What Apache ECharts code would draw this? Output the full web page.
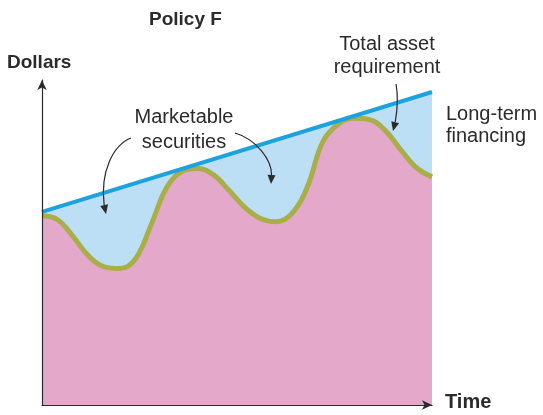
<!DOCTYPE html>
<html>
<head>
<meta charset="utf-8">
<script src="https://cdn.jsdelivr.net/npm/echarts@6/dist/echarts.min.js"></script>
<style>
  html, body { margin: 0; padding: 0; background: #fff; }
  #chart { width: 543px; height: 415px; }
</style>
</head>
<body>
<div id="chart"></div>
<script>
// Time runs 0..100, dollars 0..100
const assetTime = [0, 4, 8, 12, 16, 20, 24, 28, 32, 36, 40, 44, 48, 52, 56, 60, 64, 68, 72, 76, 80, 84, 88, 92, 96, 100];
const assetValues = [58.2, 57.0, 51.8, 45.8, 42.5, 42.0, 45.0, 55.5, 67.0, 72.0, 72.8, 70.8, 66.0, 60.8, 57.4, 56.4, 58.8, 67.0, 81.0, 86.5, 88.2, 87.8, 84.5, 78.5, 73.0, 70.2];
const financingTime = [0, 100];
const financingValues = [59.4, 96.3];

const pink = '#e4a9ca';
const lightBlue = '#bddff6';
const blueLine = '#1ba2df';
const olive = '#a9ae48';
const ink = '#2b2b2b';

function zip(xs, ys) {
  return xs.map((x, i) => [x, ys[i]]);
}

function arrow(points, tip, from) {
  const dx = tip[0] - from[0];
  const dy = tip[1] - from[1];
  const len = Math.sqrt(dx * dx + dy * dy);
  const ux = dx / len, uy = dy / len;
  const back = [tip[0] - ux * 9, tip[1] - uy * 9];
  return [
    {
      type: 'bezierCurve',
      shape: {x1: points[0][0], y1: points[0][1], cpx1: points[1][0], cpy1: points[1][1],
        cpx2: points[2][0], cpy2: points[2][1], x2: back[0], y2: back[1]},
      style: {stroke: ink, lineWidth: 1.2, fill: null},
      z: 20
    },
    {
      type: 'polygon',
      shape: {points: [tip, [back[0] - uy * 4, back[1] + ux * 4], [back[0] + uy * 4, back[1] - ux * 4]]},
      style: {fill: ink},
      z: 20
    }
  ];
}

const chart = echarts.init(document.getElementById('chart'));

const axisCommon = {
  type: 'value',
  min: 0,
  max: 100,
  z: 10,
  axisLine: {show: true, symbol: ['none', 'arrow'], symbolSize: [7, 10], lineStyle: {color: ink, width: 1.2}},
  axisTick: {show: false},
  axisLabel: {show: false},
  splitLine: {show: false}
};

const textStyle = {fill: ink, fontFamily: 'Liberation Sans, Arial, sans-serif', fontSize: 20};

chart.setOption({
  animation: false,
  grid: {left: 42, right: 111, top: 80, bottom: 10},
  xAxis: axisCommon,
  yAxis: axisCommon,
  series: [
    {
      name: 'Long-term financing',
      type: 'line',
      data: zip(financingTime, financingValues),
      symbol: 'none',
      lineStyle: {width: 0},
      areaStyle: {color: lightBlue, opacity: 1},
      z: 1
    },
    {
      name: 'Total asset requirement',
      type: 'line',
      data: zip(assetTime, assetValues),
      smooth: 0.4,
      symbol: 'none',
      lineStyle: {color: olive, width: 5},
      areaStyle: {color: pink, opacity: 1},
      z: 2
    },
    {
      name: 'Financing line',
      type: 'line',
      data: zip(financingTime, financingValues),
      symbol: 'none',
      lineStyle: {color: blueLine, width: 4},
      z: 3
    }
  ],
  graphic: [
    {type: 'text', left: 149, top: 10, style: Object.assign({}, textStyle, {text: 'Policy F', fontWeight: 'bold', fontSize: 19})},
    {type: 'text', left: 7, top: 53, style: Object.assign({}, textStyle, {text: 'Dollars', fontWeight: 'bold', fontSize: 19})},
    {type: 'text', left: 445, top: 392, style: Object.assign({}, textStyle, {text: 'Time', fontWeight: 'bold'})},
    {type: 'text', x: 184, y: 105, style: Object.assign({}, textStyle, {text: 'Marketable\nsecurities', align: 'center', lineHeight: 25})},
    {type: 'text', x: 387, y: 33, style: Object.assign({}, textStyle, {text: 'Total asset\nrequirement', align: 'center', lineHeight: 23})},
    {type: 'text', x: 446, y: 103, style: Object.assign({}, textStyle, {text: 'Long-term\nfinancing', align: 'left', lineHeight: 22})},
    ...arrow([[131, 138], [113, 145], [100, 172]], [106, 214], [101, 190]),
    ...arrow([[235, 133], [256, 139], [272, 160]], [271, 184], [272, 166]),
    ...arrow([[396, 84], [399, 100], [397, 112]], [393, 131], [397, 115])
  ]
});
</script>
</body>
</html>
